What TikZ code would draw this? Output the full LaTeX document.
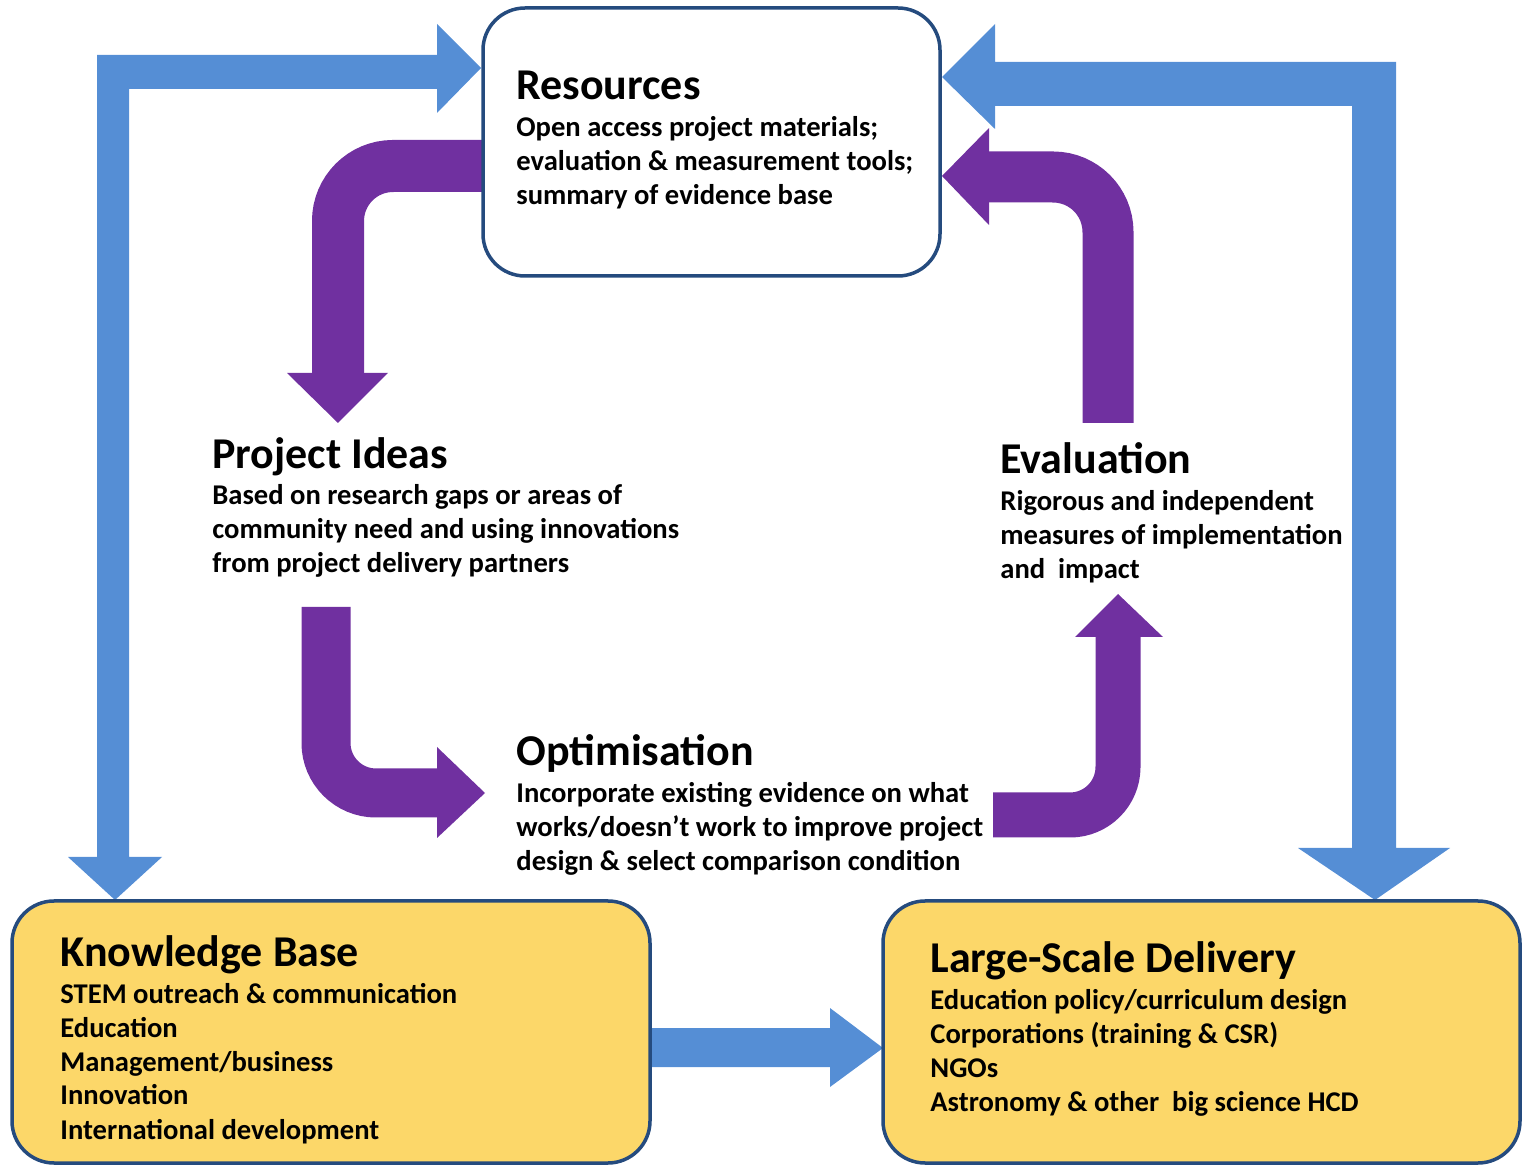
\documentclass[tikz,border=0pt]{standalone}
\usepackage{fontspec}
\setmainfont{Carlito}
\definecolor{arrblue}{HTML}{558ED5}
\definecolor{arrpurple}{HTML}{7030A0}
\definecolor{boxline}{HTML}{254B7E}
\definecolor{boxgold}{HTML}{FCD769}
\tikzset{
  ttl/.style={anchor=base west, inner sep=0pt, font=\fontsize{22}{26}\selectfont\bfseries},
  bdy/.style={anchor=base west, inner sep=0pt, font=\fontsize{14.3}{17}\selectfont\bfseries},
  roundbox/.style={draw=boxline, line width=1.75pt, rounded corners=21pt, inner sep=0pt},
  bluearrow/.style={fill=arrblue},
  purpleshaft/.style={draw=arrpurple},
  purplehead/.style={fill=arrpurple}
}
\begin{document}
\begin{tikzpicture}[x=0.5pt,y=-0.5pt]
\useasboundingbox (0,0) rectangle (1522,1165);

% ---------- blue block arrows ----------
\fill[bluearrow] (97,857) -- (68,857) -- (115,900) -- (162,857) -- (129,857)
  -- (129,89) -- (437,89) -- (437,113) -- (481,68) -- (437,24) -- (437,55) -- (97,55) -- cycle;
\fill[bluearrow] (1396,62) -- (995,62) -- (995,24) -- (942,77) -- (995,129) -- (995,106)
  -- (1352,106) -- (1352,848) -- (1298,848) -- (1375,900) -- (1450,848) -- (1396,848) -- cycle;
\fill[bluearrow] (648,1028) -- (830,1028) -- (830,1008) -- (883,1048) -- (830,1087) -- (830,1067) -- (648,1067) -- cycle;

% ---------- purple bent arrows ----------
\draw[purpleshaft, line width=26pt, rounded corners=27.5pt] (484,166) -- (338,166) -- (338,374);
\fill[purplehead] (287,373) -- (388,373) -- (338,423) -- cycle;

\draw[purpleshaft, line width=25.5pt, rounded corners=27.5pt] (1108,423) -- (1108,177) -- (988,177);
\fill[purplehead] (989,128) -- (942,176) -- (989,225) -- cycle;

\draw[purpleshaft, line width=24.5pt, rounded corners=25pt] (326,607) -- (326,793) -- (438,793);
\fill[purplehead] (437,747) -- (485,793) -- (437,838) -- cycle;

\draw[purpleshaft, line width=22.5pt, rounded corners=24pt] (993,815) -- (1118,815) -- (1118,636);
\fill[purplehead] (1075,637) -- (1118,594) -- (1163,637) -- cycle;

% ---------- boxes ----------
\node[roundbox, fill=white, minimum width=228.5pt, minimum height=134pt] (res) at (711.5,142) {};
\node[roundbox, fill=boxgold, minimum width=319pt, minimum height=131pt] (kb) at (331,1032) {};
\node[roundbox, fill=boxgold, minimum width=318.5pt, minimum height=131pt] (lsd) at (1201.5,1032) {};

% ---------- texts ----------
\node[ttl] (resT) at (516,100) {Resources};
\node[bdy] (resB) at (516,137) {\vtop{\hbox{Open access project materials;}\hbox{evaluation \& measurement tools;}\hbox{summary of evidence base}}};

\node[ttl] (piT) at (212,469) {Project Ideas};
\node[bdy] (piB) at (212,505) {\vtop{\hbox{Based on research gaps or areas of}\hbox{community need and using innovations}\hbox{from project delivery partners}}};

\node[ttl] (evT) at (1000,474) {Evaluation};
\node[bdy] (evB) at (1000,511) {\vtop{\hbox{Rigorous and independent}\hbox{measures of implementation}\hbox{and\ \ impact}}};

\node[ttl] (opT) at (516,766) {Optimisation};
\node[bdy] (opB) at (516,803) {\vtop{\hbox{Incorporate existing evidence on what}\hbox{works/doesn’t work to improve project}\hbox{design \& select comparison condition}}};

\node[ttl] (kbT) at (60,966) {Knowledge Base};
\node[bdy] (kbB) at (60,1003) {\vtop{\hbox{STEM outreach \& communication}\hbox{Education}\hbox{Management/business}\hbox{Innovation}\hbox{International development}}};

\node[ttl] (lsdT) at (930,972) {Large-Scale Delivery};
\node[bdy] (lsdB) at (930,1009) {\vtop{\hbox{Education policy/curriculum design}\hbox{Corporations (training \& CSR)}\hbox{NGOs}\hbox{Astronomy \& other\ \ big science HCD}}};
\end{tikzpicture}
\end{document}
